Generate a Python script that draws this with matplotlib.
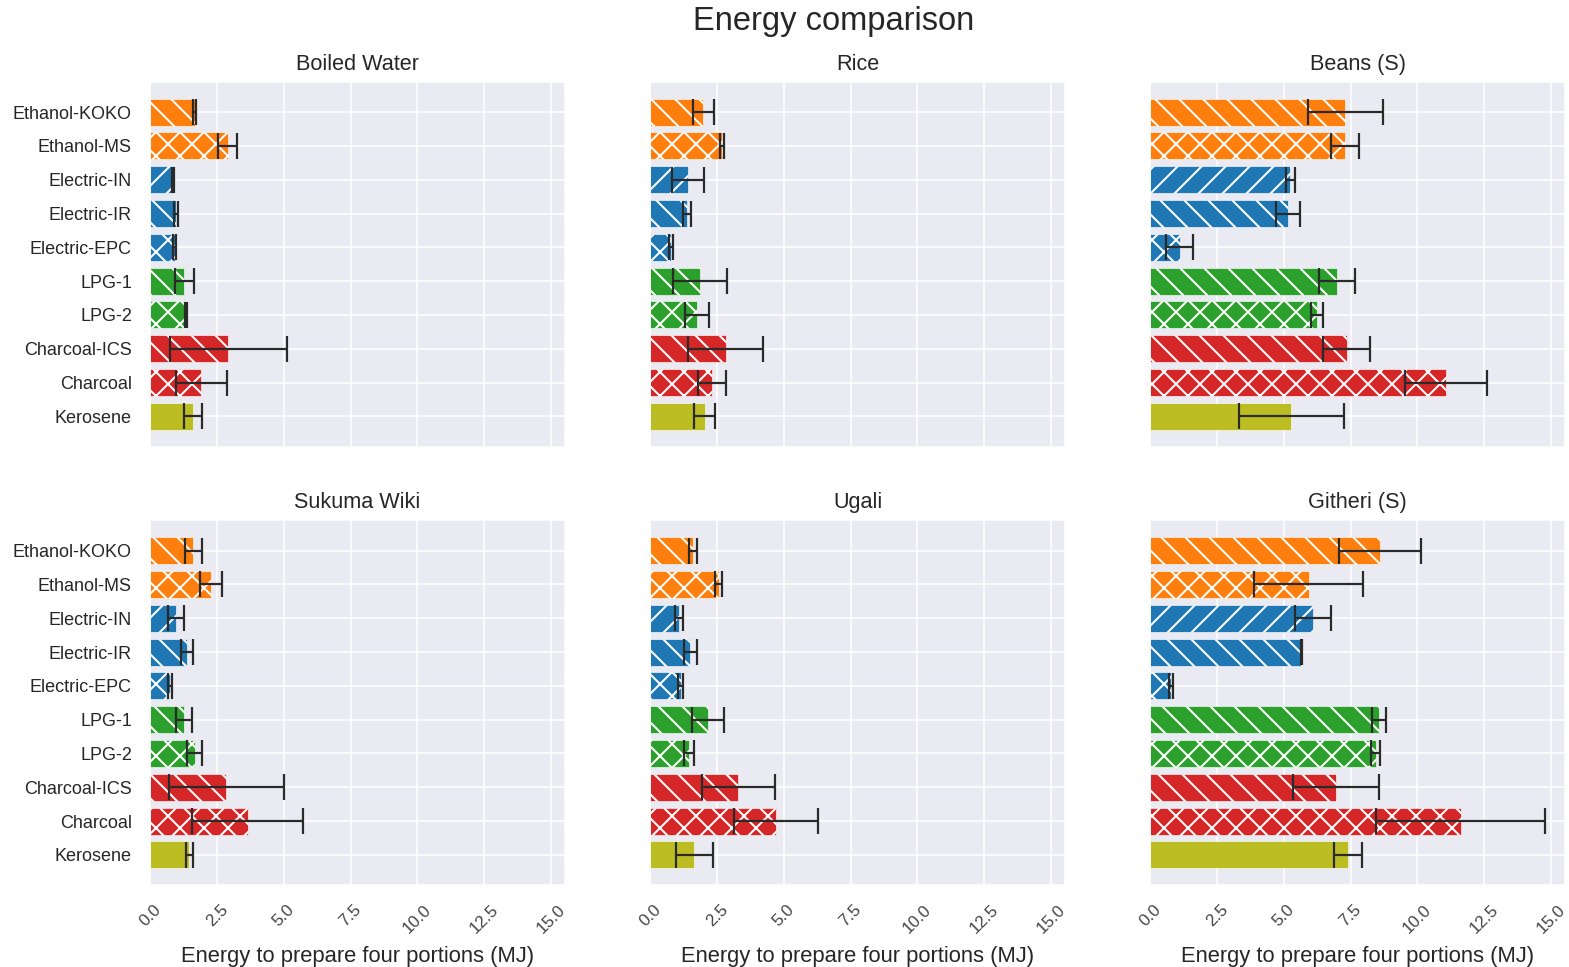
import matplotlib
matplotlib.use("Agg")
import matplotlib.pyplot as plt
import seaborn as sns

stoves = ["Ethanol-KOKO", "Ethanol-MS", "Electric-IN", "Electric-IR", "Electric-EPC",
          "LPG-1", "LPG-2", "Charcoal-ICS", "Charcoal", "Kerosene"]
colors = ["#ff7f0e", "#ff7f0e", "#1f77b4", "#1f77b4", "#1f77b4",
          "#2ca02c", "#2ca02c", "#d62728", "#d62728", "#bcbd22"]
hatches = ["\\\\", "xx", "//", "\\\\", "xx", "\\\\", "xx", "\\\\", "xx", ""]

dishes = ["Boiled Water", "Rice", "Beans (S)", "Sukuma Wiki", "Ugali", "Githeri (S)"]

boiled_water = [1.67, 2.90, 0.86, 0.97, 0.92, 1.29, 1.35, 2.93, 1.92, 1.60]
boiled_water_err = [0.06, 0.37, 0.02, 0.08, 0.07, 0.34, 0.03, 2.20, 0.95, 0.34]
rice = [1.99, 2.70, 1.42, 1.38, 0.77, 1.86, 1.76, 2.83, 2.32, 2.04]
rice_err = [0.39, 0.07, 0.59, 0.14, 0.07, 1.01, 0.45, 1.41, 0.52, 0.40]
beans = [7.30, 7.30, 5.25, 5.15, 1.10, 7.00, 6.23, 7.35, 11.08, 5.28]
beans_err = [1.41, 0.53, 0.16, 0.45, 0.50, 0.67, 0.22, 0.87, 1.53, 1.97]
sukuma_wiki = [1.62, 2.28, 0.98, 1.37, 0.76, 1.28, 1.67, 2.86, 3.65, 1.47]
sukuma_wiki_err = [0.31, 0.40, 0.30, 0.22, 0.08, 0.30, 0.28, 2.15, 2.08, 0.12]
ugali = [1.61, 2.56, 1.08, 1.51, 1.15, 2.16, 1.47, 3.30, 4.71, 1.65]
ugali_err = [0.15, 0.14, 0.15, 0.24, 0.10, 0.59, 0.19, 1.37, 1.57, 0.69]
githeri = [8.60, 5.93, 6.08, 5.65, 0.79, 8.56, 8.43, 6.95, 11.62, 7.40]
githeri_err = [1.52, 2.05, 0.67, 0.02, 0.08, 0.25, 0.17, 1.60, 3.16, 0.51]

values = [boiled_water, rice, beans, sukuma_wiki, ugali, githeri]
errors = [boiled_water_err, rice_err, beans_err, sukuma_wiki_err, ugali_err, githeri_err]

sns.set_style("darkgrid")
plt.rcParams["font.family"] = ["Liberation Sans", "DejaVu Sans"]
plt.rcParams["hatch.color"] = "white"
plt.rcParams["hatch.linewidth"] = 1.0

fig, axes = plt.subplots(2, 3, figsize=(1569 / 144, 967 / 144), dpi=144,
                         sharex=True, sharey=True)
fig.subplots_adjust(left=0.0956, right=0.9975, top=0.9152, bottom=0.0848,
                    wspace=0.205, hspace=0.203)

ypos = list(range(len(stoves)))
for ax, dish, vals, errs in zip(axes.flat, dishes, values, errors):
    bars = ax.barh(ypos, vals, xerr=errs, color=colors, edgecolor="white",
                   linewidth=0.3, height=0.8,
                   error_kw=dict(ecolor="#2a2a2a", capsize=6.5, elinewidth=1.1,
                                 capthick=1.1))
    for bar, h in zip(bars, hatches):
        bar.set_hatch(h)
    ax.set_title(dish, fontsize=10.8, color="#262626", pad=6)
    ax.tick_params(axis="y", labelsize=9, pad=5.5, labelcolor="#262626")
    ax.tick_params(axis="x", labelsize=8.5, labelrotation=45, labelcolor="#444444",
                   pad=5)

axes[0, 0].set_yticks(ypos)
axes[0, 0].set_yticklabels(stoves)
axes[0, 0].invert_yaxis()
axes[0, 0].set_xticks([0, 2.5, 5, 7.5, 10, 12.5, 15])
for ax in axes[1]:
    ax.set_xlabel("Energy to prepare four portions (MJ)", fontsize=11,
                  color="#262626", labelpad=5)

fig.suptitle("Energy comparison", x=0.5316, y=0.994, fontsize=16.3, color="#262626")
fig.savefig("out.png", dpi=144)
